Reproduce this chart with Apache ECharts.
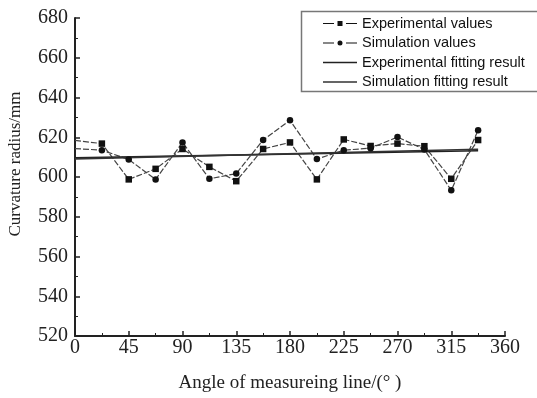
<!DOCTYPE html>
<html>
<head>
<meta charset="utf-8">
<script src="https://cdn.jsdelivr.net/npm/echarts@6/dist/echarts.min.js"></script>
<style>html,body{margin:0;padding:0;background:#fff}#c{width:537px;height:398px}</style>
</head>
<body>
<div id="c"></div>
<script>
const angles = [0, 22.5, 45, 67.5, 90, 112.5, 135, 157.5, 180, 202.5, 225, 247.5, 270, 292.5, 315, 337.5];
const experimental = [618.4, 616.8, 598.8, 604.1, 614.1, 605.1, 597.9, 614.1, 617.4, 598.8, 618.9, 615.6, 616.8, 615.5, 599.1, 618.6];
const simulation = [614.3, 613.5, 608.8, 598.8, 617.4, 599.1, 601.7, 618.6, 628.5, 609.0, 613.5, 614.5, 620.1, 613.8, 593.3, 623.5];
const fitAngles = [0, 337.5];
const expFit = [609.6, 613.2];
const simFit = [609.1, 614.0];
const xTicks = [0, 45, 90, 135, 180, 225, 270, 315, 360];
const yTicks = [520, 540, 560, 580, 600, 620, 640, 660, 680];
const yTitle = 'Curvature radius/mm';
const xTitle = 'Angle of measureing line/(° )';

const pair = (xs, ys) => xs.map((x, i) => [x, ys[i]]);
// the marker at the axis (angle 0) is hidden behind the axis in the original
const pairNoFirst = (xs, ys) => xs.map((x, i) => i === 0 ? { value: [x, ys[i]], symbol: 'none' } : [x, ys[i]]);
const chart = echarts.init(document.getElementById('c'));
const serif = '"Liberation Serif", "DejaVu Serif", serif';
const sans = '"Liberation Sans", Arial, sans-serif';
const corners = 'M0,0h0.01v0.01h-0.01z M33.99,11.99h0.01v0.01h-0.01z ';
const iconSquare = 'path://' + corners + 'M0,5.4h11v1.2h-11z M14.5,3.5h5v5h-5z M23,5.4h11v1.2h-11z';
const iconCircle = 'path://' + corners + 'M0,5.4h11v1.2h-11z M14.5,6a2.5,2.5 0 1,0 5,0a2.5,2.5 0 1,0 -5,0z M23,5.4h11v1.2h-11z';
const iconLine = 'path://' + corners + 'M0,5.2h34v1.6h-34z';
chart.setOption({
  animation: false,
  grid: { left: 75, right: 32, top: 18, bottom: 58 },
  graphic: [{
    type: 'rect', left: 299, top: 9,
    shape: { width: 260, height: 80 },
    style: { fill: 'none', stroke: '#777', lineWidth: 1.5 },
    z: 10
  }, {
    type: 'text', x: 16, y: 164, rotation: Math.PI / 2,
    style: { text: yTitle, font: '17px "Liberation Serif", serif', fill: '#222',
      align: 'center', verticalAlign: 'middle' }
  }],
  legend: {
    orient: 'vertical', left: 318, top: 11,
    itemWidth: 34, itemHeight: 12, itemGap: 4.5,
    textStyle: { fontFamily: sans, fontSize: 14.5, color: '#111' },
    data: [
      { name: 'Experimental values', icon: iconSquare },
      { name: 'Simulation values', icon: iconCircle },
      { name: 'Experimental fitting result', icon: iconLine },
      { name: 'Simulation fitting result', icon: iconLine }
    ]
  },
  xAxis: {
    type: 'value', min: 0, max: 360, interval: 45,
    name: xTitle, nameLocation: 'middle', nameGap: 38,
    nameTextStyle: { fontFamily: serif, fontSize: 19, color: '#222' },
    axisLine: { show: true, onZero: false, lineStyle: { color: '#222', width: 2 } },
    axisTick: { inside: true, length: 5, lineStyle: { color: '#222', width: 1.5 } },
    minorTick: { show: true, splitNumber: 2, length: 3, lineStyle: { color: '#222' } },
    axisLabel: { fontFamily: serif, fontSize: 20, color: '#222', margin: 2 },
    splitLine: { show: false }
  },
  yAxis: {
    type: 'value', min: 520, max: 680, interval: 20,
    axisLine: { show: true, lineStyle: { color: '#222', width: 2 } },
    axisTick: { inside: true, length: 5, lineStyle: { color: '#222', width: 1.5 } },
    minorTick: { show: true, splitNumber: 2, length: 3, lineStyle: { color: '#222' } },
    axisLabel: { fontFamily: serif, fontSize: 20, color: '#222', margin: 7 },
    splitLine: { show: false }
  },
  series: [
    { name: 'Experimental values', type: 'line', data: pairNoFirst(angles, experimental),
      symbol: 'rect', symbolSize: 6.5, showAllSymbol: true,
      itemStyle: { color: '#111' },
      lineStyle: { color: '#444', width: 1.2, type: [6, 2] } },
    { name: 'Simulation values', type: 'line', data: pairNoFirst(angles, simulation),
      symbol: 'circle', symbolSize: 6.5, showAllSymbol: true,
      itemStyle: { color: '#111' },
      lineStyle: { color: '#444', width: 1.2, type: [6, 2] } },
    { name: 'Experimental fitting result', type: 'line', data: pair(fitAngles, expFit),
      symbol: 'none', itemStyle: { color: '#222' },
      lineStyle: { color: '#222', width: 1.6 } },
    { name: 'Simulation fitting result', type: 'line', data: pair(fitAngles, simFit),
      symbol: 'none', itemStyle: { color: '#333' },
      lineStyle: { color: '#333', width: 1.6 } }
  ]
});
</script>
</body>
</html>
